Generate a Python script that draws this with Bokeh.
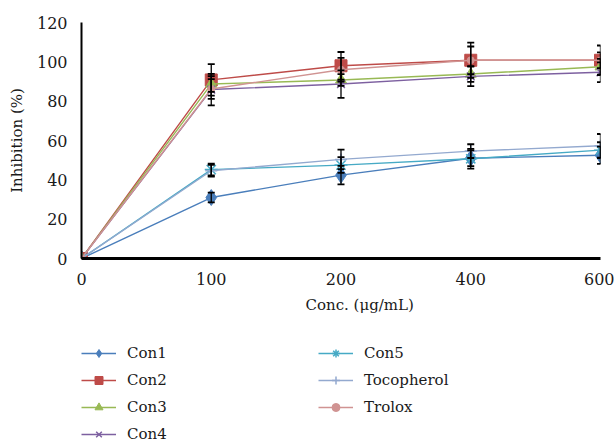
from bokeh.plotting import figure
from bokeh.layouts import column
from bokeh.models import (ColumnDataSource, Whisker, TeeHead, Legend, LegendItem,
                          FixedTicker, Range1d, Title)
from bokeh.embed import file_html
from bokeh.resources import INLINE

# ---- data ----
conc_labels = ["0", "100", "200", "400", "600"]
con1 = [0, 31, 42.4, 51, 52.5]
con2 = [0, 90.8, 98, 100.8, 100.8]
con3 = [0, 88.7, 90.8, 93.8, 97.5]
con4 = [0, 85.9, 88.7, 92.6, 94.7]
con5 = [0, 45.2, 47.5, 50.7, 55.1]
tocopherol = [0, 44.6, 50.4, 54.6, 57.3]
trolox = [0, 86.2, 96, 100.8, 100.8]

err_con1 = [0, 2.5, 4.7, 4, 4.4]
err_con2 = [0, 8, 7, 9, 7.5]
err_con3 = [0, 4, 3, 4, 4]
err_con4 = [0, 8, 7, 5, 5]
err_con5 = [0, 3, 4, 5, 4]
err_toco = [0, 3, 5, 3.5, 6]
err_trolox = [0, 5, 6, 7, 4]

series = [
    ("Con1", con1, err_con1, "#4A7EBB", "diamond", 16),
    ("Con2", con2, err_con2, "#BE4B48", "square", 12),
    ("Con3", con3, err_con3, "#98B954", "triangle", 11),
    ("Con4", con4, err_con4, "#7D60A0", "x", 11),
    ("Con5", con5, err_con5, "#46AAC5", "asterisk", 13),
    ("Tocopherol", tocopherol, err_toco, "#93A9CF", "cross", 12),
    ("Trolox", trolox, err_trolox, "#D09392", "circle", 7),
]

FONT = "DejaVu Serif"
TXT = "#1a1a1a"

p = figure(width=614, height=320, output_backend="svg", toolbar_location=None,
           x_range=Range1d(0, 4), y_range=Range1d(0, 120),
           min_border_left=81, min_border_right=14, min_border_top=22,
           min_border_bottom=60)
p.outline_line_color = None
p.xgrid.grid_line_color = None
p.ygrid.grid_line_color = None

xs = list(range(len(conc_labels)))

def add_series(fig, ys, color, marker, size):
    src = ColumnDataSource(dict(x=xs, y=ys))
    l = fig.line("x", "y", source=src, line_color=color, line_width=1.4)
    if marker in ("x", "asterisk", "cross"):
        s = fig.scatter("x", "y", source=src, marker=marker, size=size,
                        line_color=color, line_width=1.5, fill_color=color)
    else:
        s = fig.scatter("x", "y", source=src, marker=marker, size=size,
                        line_color=color, fill_color=color, line_width=1)
    return l, s

for name, ys, err, color, marker, size in series:
    up = [y + e for y, e in zip(ys, err)]
    lo = [y - e for y, e in zip(ys, err)]
    src = ColumnDataSource(dict(x=xs, y=ys, upper=up, lower=lo))
    w = Whisker(base="x", upper="upper", lower="lower", source=src,
                line_color="black", line_width=1.3, level="glyph",
                upper_head=TeeHead(size=7, line_color="black", line_width=1.8),
                lower_head=TeeHead(size=7, line_color="black", line_width=1.8))
    p.add_layout(w)
for name, ys, err, color, marker, size in series:
    add_series(p, ys, color, marker, size)

# axes
p.xaxis.ticker = FixedTicker(ticks=xs)
p.xaxis.major_label_overrides = {i: t for i, t in enumerate(conc_labels)}
p.yaxis.ticker = FixedTicker(ticks=[0, 20, 40, 60, 80, 100, 120])
for ax in (p.xaxis[0], p.yaxis[0]):
    ax.major_tick_line_color = None
    ax.minor_tick_line_color = None
    ax.axis_line_color = "black"
    ax.major_label_text_font = FONT
    ax.major_label_text_font_size = "16px"
    ax.major_label_text_font_style = "normal"
    ax.major_label_text_color = TXT
p.xaxis.axis_line_width = 3
p.yaxis.axis_line_width = 2
p.xaxis.major_label_standoff = 8
p.yaxis.major_label_standoff = 8

p.yaxis.axis_label = "Inhibition (%)"
p.yaxis.axis_label_text_font = FONT
p.yaxis.axis_label_text_font_size = "15px"
p.yaxis.axis_label_text_font_style = "normal"
p.yaxis.axis_label_text_color = TXT
p.yaxis.axis_label_standoff = 8

p.add_layout(Title(text="Conc. (\u03bcg/mL)", align="left", offset=224,
                   text_font=FONT, text_font_size="15px",
                   text_font_style="normal", text_color=TXT, standoff=13),
             "below")

# legend figure (its view is placed away from the data, so only the legend shows)
q = figure(width=614, height=124, output_backend="svg", toolbar_location=None,
           x_range=Range1d(-20, -10), y_range=Range1d(-20, -10),
           x_axis_type=None, y_axis_type=None,
           min_border_left=0, min_border_right=0, min_border_top=0,
           min_border_bottom=0)
q.outline_line_color = None
q.xgrid.grid_line_color = None
q.ygrid.grid_line_color = None

items = []
for name, ys, err, color, marker, size in series:
    l, s = add_series(q, ys, color, marker, size)
    items.append(LegendItem(label=name, renderers=[l, s]))

def make_legend(its, loc):
    return Legend(items=its, location=loc, orientation="vertical",
                  label_text_font=FONT, label_text_font_size="15px",
                  label_text_font_style="normal",
                  label_text_color=TXT,
                  glyph_width=35, glyph_height=20, label_height=20,
                  label_standoff=11, spacing=7, padding=0, margin=0,
                  border_line_color=None, background_fill_alpha=0)

q.add_layout(make_legend(items[:4], (0, 0)))
q.add_layout(make_legend(items[4:], (237, 27)))

open("out.html", "w").write(file_html(column(p, q, spacing=0), INLINE))
